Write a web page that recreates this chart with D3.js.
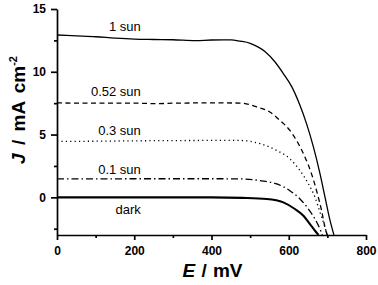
<!DOCTYPE html>
<html>
<head>
<meta charset="utf-8">
<script src="https://cdn.jsdelivr.net/npm/d3@7"></script>
<style>
  html, body { margin: 0; padding: 0; background: #fff; }
  svg { display: block; }
  text { font-family: "Liberation Sans", Arial, sans-serif; }
</style>
</head>
<body>
<svg id="chart" width="378" height="285"></svg>
<script>
// ---- data (E in mV, J in mA cm^-2) ----
const sun1E  = [0, 50, 100, 150, 200, 250, 300, 360, 400, 450, 474, 500, 520, 539, 564, 586, 608, 629, 646, 664, 681, 694, 707, 717];
const sun1J  = [12.93, 12.86, 12.79, 12.68, 12.6, 12.57, 12.55, 12.48, 12.53, 12.54, 12.44, 12.27, 11.98, 11.6, 10.8, 9.86, 8.8, 7.33, 5.87, 4.0, 1.87, 0.0, -1.86, -3.0];

const sun052E = [0, 100, 200, 258, 300, 400, 474, 517, 551, 577, 603, 625, 642, 659, 672, 685, 696, 700];
const sun052J = [7.52, 7.5, 7.5, 7.46, 7.5, 7.52, 7.51, 7.2, 6.8, 6.13, 5.33, 4.27, 3.2, 1.87, 0.53, -1.06, -2.66, -3.0];

const sun03E = [0, 100, 200, 300, 400, 474, 526, 569, 603, 629, 651, 668, 681, 694, 699];
const sun03J = [4.45, 4.47, 4.5, 4.52, 4.53, 4.53, 4.27, 3.73, 3.07, 2.13, 1.07, 0.0, -1.2, -2.4, -3.0];

const sun01E = [0, 100, 200, 300, 400, 474, 526, 569, 603, 629, 651, 668, 681, 687];
const sun01J = [1.47, 1.47, 1.48, 1.48, 1.48, 1.47, 1.33, 1.07, 0.53, -0.13, -0.93, -1.73, -2.53, -3.0];

const darkE = [0, 100, 200, 300, 400, 480, 543, 586, 616, 638, 655, 668, 677];
const darkJ = [0, 0, 0, 0, 0, -0.04, -0.13, -0.4, -0.93, -1.46, -2.13, -2.66, -3.0];

const seriesNames = ["1 sun", "0.52 sun", "0.3 sun", "0.1 sun", "dark"];
const labelJ = [13.65, 8.4, 5.33, 2.19, -1.0];   // label vertical positions (data units)
const labelE = 217;                               // labels right-aligned at this E

const xTicks = [0, 200, 400, 600, 800];
const xMinor = [100, 300, 500, 700];
const yTicks = [0, 5, 10, 15];
const yMinor = [-2.5, 2.5, 7.5, 12.5];

// ---- layout ----
const svg = d3.select("#chart");
const x = d3.scaleLinear().domain([0, 800]).range([57, 366]);
const y = d3.scaleLinear().domain([-3, 15]).range([235, 9]);

const series = [
  {E: sun1E, J: sun1J, dash: null, w: 1.3},
  {E: sun052E, J: sun052J, dash: "5,3.5", w: 1.3},
  {E: sun03E, J: sun03J, dash: "1.2,3.2", w: 1.3},
  {E: sun01E, J: sun01J, dash: "7,3,1.5,3", w: 1.3},
  {E: darkE, J: darkJ, dash: null, w: 2.1}
];

const line = d3.line().x(d => x(d[0])).y(d => y(d[1])).curve(d3.curveMonotoneX);

series.forEach(s => {
  const pts = s.E.map((e, i) => [e, s.J[i]]);
  svg.append("path")
    .attr("d", line(pts))
    .attr("fill", "none")
    .attr("stroke", "#000")
    .attr("stroke-width", s.w)
    .attr("stroke-dasharray", s.dash);
});

// labels
seriesNames.forEach((n, i) => {
  svg.append("text")
    .attr("x", x(labelE))
    .attr("y", y(labelJ[i]))
    .attr("dy", "0.35em")
    .attr("text-anchor", "end")
    .attr("font-size", 13)
    .text(n);
});

// axes
const axW = 1.7;
const gx = svg.append("g").attr("transform", `translate(0,${y(-3)})`)
  .call(d3.axisBottom(x).tickValues(xTicks).tickSize(5).tickSizeOuter(0).tickPadding(6).tickFormat(d3.format("d")));
const gxm = svg.append("g").attr("transform", `translate(0,${y(-3)})`)
  .call(d3.axisBottom(x).tickValues(xMinor).tickSize(3).tickSizeOuter(0).tickFormat(""));
gxm.select(".domain").remove();

const gy = svg.append("g").attr("transform", `translate(${x(0)},0)`)
  .call(d3.axisLeft(y).tickValues(yTicks).tickSize(6).tickSizeOuter(0).tickPadding(5).tickFormat(d3.format("d")));
const gym = svg.append("g").attr("transform", `translate(${x(0)},0)`)
  .call(d3.axisLeft(y).tickValues(yMinor).tickSize(3).tickSizeOuter(0).tickFormat(""));
gym.select(".domain").remove();

[gx, gxm, gy, gym].forEach(g => {
  g.selectAll("path, line").attr("stroke", "#000").attr("stroke-width", axW);
  g.selectAll("text").attr("font-size", 12).attr("font-weight", "bold")
    .attr("font-family", "'Liberation Sans', Arial, sans-serif").attr("fill", "#000");
});

// axis titles
const xt = svg.append("text")
  .attr("x", 212.5).attr("y", 277)
  .attr("text-anchor", "middle")
  .attr("font-size", 19).attr("font-weight", "bold")
  .attr("word-spacing", 1);
xt.append("tspan").attr("font-style", "italic").text("E");
xt.append("tspan").text(" / mV");

const yt = svg.append("text")
  .attr("transform", "translate(25,110) rotate(-90)")
  .attr("text-anchor", "middle")
  .attr("font-size", 19).attr("font-weight", "bold")
  .attr("word-spacing", 3);
yt.append("tspan").attr("font-style", "italic").text("J");
yt.append("tspan").text(" / mA cm");
yt.append("tspan").attr("font-size", 11).attr("dy", -8).text("-2");
</script>
</body>
</html>
